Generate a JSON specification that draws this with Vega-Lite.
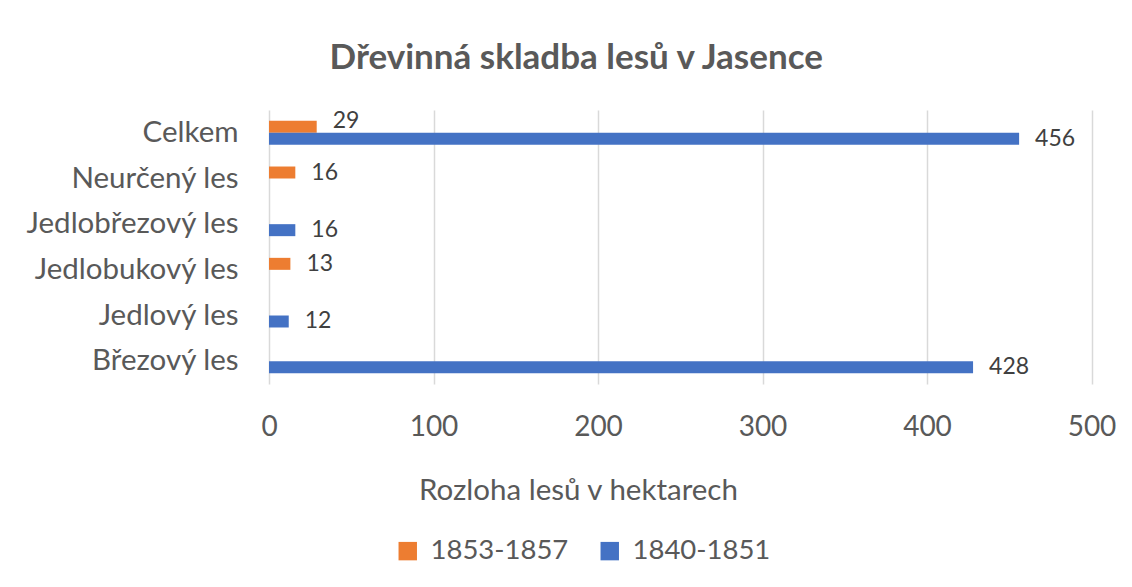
{
  "$schema": "https://vega.github.io/schema/vega-lite/v6.json",
  "autosize": {"type": "none"},
  "width": 822.5,
  "height": 274,
  "padding": {"left": 269, "top": 110, "right": 40.5, "bottom": 203},
  "background": "white",
  "config": {"view": {"stroke": null}},
  "title": {
    "text": "Dřevinná skladba lesů v Jasence",
    "font": "Lato",
    "fontSize": 35,
    "fontWeight": "bold",
    "color": "#595959",
    "anchor": "middle",
    "dx": -104,
    "baseline": "alphabetic",
    "offset": 6
  },
  "data": {
    "values": [
      {"kategorie": "Celkem", "obdobi": "1853-1857", "hodnota": 29},
      {"kategorie": "Celkem", "obdobi": "1840-1851", "hodnota": 456},
      {"kategorie": "Neurčený les", "obdobi": "1853-1857", "hodnota": 16},
      {"kategorie": "Jedlobřezový les", "obdobi": "1840-1851", "hodnota": 16},
      {"kategorie": "Jedlobukový les", "obdobi": "1853-1857", "hodnota": 13},
      {"kategorie": "Jedlový les", "obdobi": "1840-1851", "hodnota": 12},
      {"kategorie": "Březový les", "obdobi": "1840-1851", "hodnota": 428}
    ]
  },
  "encoding": {
    "y": {
      "field": "kategorie",
      "type": "nominal",
      "sort": ["Celkem", "Neurčený les", "Jedlobřezový les", "Jedlobukový les", "Jedlový les", "Březový les"],
      "scale": {"paddingInner": 0.475, "paddingOuter": 0.2375},
      "axis": {
        "title": null,
        "ticks": false,
        "domain": false,
        "labelFont": "Lato",
        "labelFontSize": 29.5,
        "labelColor": "#595959",
        "labelPadding": 31,
        "labelLimit": 0,
        "grid": false
      }
    },
    "yOffset": {
      "field": "obdobi",
      "type": "nominal",
      "sort": ["1853-1857", "1840-1851"],
      "scale": {"paddingInner": 0, "paddingOuter": 0}
    },
    "x": {
      "field": "hodnota",
      "type": "quantitative",
      "scale": {"domain": [0, 500], "nice": false},
      "axis": {
        "values": [0, 100, 200, 300, 400, 500],
        "grid": true,
        "gridColor": "#D9D9D9",
        "gridWidth": 1.5,
        "domain": false,
        "ticks": false,
        "labelFont": "Lato",
        "labelFontSize": 28,
        "labelColor": "#595959",
        "labelBaseline": "alphabetic",
        "labelPadding": 51,
        "labelFlush": false,
        "title": "Rozloha lesů v hektarech",
        "titleFont": "Lato",
        "titleFontSize": 29.5,
        "titleFontWeight": "normal",
        "titleColor": "#595959",
        "titleX": 309,
        "titleY": 115,
        "titleBaseline": "alphabetic",
        "titleAnchor": "middle",
        "titleAlign": "center"
      }
    }
  },
  "layer": [
    {
      "mark": {"type": "bar"},
      "encoding": {
        "color": {
          "field": "obdobi",
          "type": "nominal",
          "scale": {"domain": ["1853-1857", "1840-1851"], "range": ["#ED7D31", "#4472C4"]},
          "legend": {
            "title": null,
            "orient": "none",
            "direction": "horizontal",
            "legendX": 125,
            "legendY": 427,
            "symbolType": "square",
            "symbolSize": 340,
            "symbolStrokeWidth": 0,
            "labelFont": "Lato",
            "labelFontSize": 27.5,
            "labelColor": "#595959",
            "labelOffset": 9,
            "columnPadding": 27,
            "padding": 0
          }
        }
      }
    },
    {
      "transform": [{"filter": "!(datum.kategorie == 'Celkem' && datum.obdobi == '1853-1857')"}],
      "mark": {"type": "text", "align": "left", "baseline": "middle", "dx": 16, "font": "Lato", "fontSize": 23, "color": "#404040"},
      "encoding": {"text": {"field": "hodnota", "type": "quantitative"}}
    },
    {
      "transform": [{"filter": "datum.kategorie == 'Celkem' && datum.obdobi == '1853-1857'"}],
      "mark": {"type": "text", "align": "left", "baseline": "middle", "dx": 16, "dy": -6, "font": "Lato", "fontSize": 23, "color": "#404040"},
      "encoding": {"text": {"field": "hodnota", "type": "quantitative"}}
    }
  ]
}
